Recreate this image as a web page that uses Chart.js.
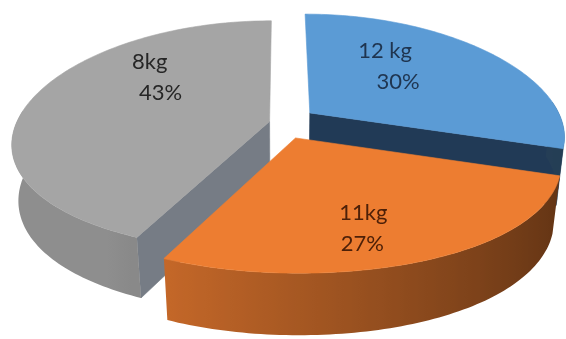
<!DOCTYPE html>
<html>
<head>
<meta charset="utf-8">
<script src="https://cdn.jsdelivr.net/npm/chart.js@4.4.0/dist/chart.umd.min.js"></script>
<style>
  html, body { margin: 0; padding: 0; background: #fff; }
  #wrap { width: 566px; height: 339px; }
</style>
</head>
<body>
<div id="wrap"><canvas id="pieChart" width="566" height="339"></canvas></div>
<script>
// weight written on each slice
const sliceLabels = ['12 kg', '11kg', '8kg'];
// share of each slice (%)
const sliceShares = [30, 27, 43];

function shade(hex, f) {
  const n = parseInt(hex.slice(1), 16);
  const r = Math.round(((n >> 16) & 255) * f);
  const g = Math.round(((n >> 8) & 255) * f);
  const b = Math.round((n & 255) * f);
  return `rgb(${Math.min(r, 255)},${Math.min(g, 255)},${Math.min(b, 255)})`;
}

// draws the pie as a tilted, exploded 3D disc using the arcs Chart.js laid out
const pie3d = {
  id: 'pie3d',
  beforeDatasetsDraw(chart, args, o) {
    const ctx = chart.ctx;
    const meta = chart.getDatasetMeta(0);
    const ds = chart.data.datasets[0];
    const phi = o.tilt * Math.PI / 180;
    const sn = Math.sin(phi), cs = Math.cos(phi);

    const first = meta.data[0];
    const R = first.outerRadius * o.stretch;
    const cx = first.x + o.shiftX;
    const cy = first.y + o.shiftY;

    // X right, Y up, Z towards the viewer -> canvas px
    const project = (X, Y, Z) => {
      const yc = Y * cs - Z * sn;
      const kx = R * o.distX / (o.distX - Y * sn - Z * cs);
      const ky = R * o.distY / (o.distY - Y * sn - Z * cs);
      return [cx + X * kx, cy - yc * ky];
    };
    const path = pts => {
      ctx.beginPath();
      pts.forEach((p, j) => j ? ctx.lineTo(p[0], p[1]) : ctx.moveTo(p[0], p[1]));
      ctx.closePath();
    };
    const poly = (pts, fill) => {
      path(pts);
      ctx.fillStyle = fill;
      ctx.fill();
      ctx.strokeStyle = fill;
      ctx.lineWidth = 0.6;
      ctx.stroke();
    };
    const rimShade = a => Math.max(0.3, Math.min(o.rimMax, 0.7 - 0.3 * Math.cos(a)));
    const h = -o.thickness;

    const slices = meta.data.map((arc, i) => {
      const mid = (arc.startAngle + arc.endAngle) / 2;
      const e = (arc.options.offset || 0) / arc.outerRadius;
      return { i, a0: arc.startAngle, a1: arc.endAngle, mid,
               ox: Math.cos(mid) * e, oz: Math.sin(mid) * e };
    }).sort((p, q) => p.oz - q.oz); // back slices first

    ctx.save();
    slices.forEach(sl => {
      const base = ds.backgroundColor[sl.i];
      const n = Math.max(8, Math.ceil((sl.a1 - sl.a0) / 0.02));
      const ang = [], top = [], bot = [];
      for (let j = 0; j <= n; j++) {
        const a = sl.a0 + (sl.a1 - sl.a0) * j / n;
        const X = sl.ox + Math.cos(a), Z = sl.oz + Math.sin(a);
        ang.push(a);
        top.push(project(X, 0, Z));
        bot.push(project(X, h, Z));
      }
      const apT = project(sl.ox, 0, sl.oz);
      const apB = project(sl.ox, h, sl.oz);

      // cut faces, only the ones turned to the front
      if (-Math.cos(sl.a0) > 0.01) poly([top[0], apT, apB, bot[0]], ds.cutColor[sl.i]);
      if (Math.cos(sl.a1) > 0.01) poly([apT, top[n], bot[n], apB], ds.cutColor[sl.i]);

      // outer rim (front part), one shape with a left-lit gradient
      const vis = [];
      for (let j = 0; j <= n; j++) if (Math.sin(ang[j]) > -0.12) vis.push(j);
      if (vis.length > 1) {
        const rim = vis.map(j => top[j]).concat(vis.slice().reverse().map(j => bot[j]));
        const xs = rim.map(p => p[0]);
        const x0 = Math.min(...xs), x1 = Math.max(...xs);
        const grad = ctx.createLinearGradient(x0, 0, x1, 0);
        vis.forEach(j => {
          const t = (top[j][0] - x0) / (x1 - x0 || 1);
          grad.addColorStop(Math.max(0, Math.min(1, t)), shade(base, rimShade(ang[j])));
        });
        path(rim);
        ctx.fillStyle = grad;
        ctx.fill();
      }

      poly([apT].concat(top), base);
    });

    // value labels on the top faces
    const total = ds.data.reduce((s, v) => s + v, 0);
    ctx.font = o.font;
    ctx.textAlign = 'center';
    ctx.textBaseline = 'middle';
    slices.forEach(sl => {
      const lay = o.labelLayout[sl.i];
      const p = project(sl.ox + Math.cos(sl.mid) * o.labelRadius, 0,
                        sl.oz + Math.sin(sl.mid) * o.labelRadius);
      const x = p[0] + lay[0], y = p[1] + lay[1];
      ctx.fillStyle = ds.labelColor[sl.i];
      ctx.fillText(chart.data.labels[sl.i], x - lay[2] / 2, y - o.lineGap / 2);
      ctx.fillText(Math.round(ds.data[sl.i] / total * 100) + '%', x + lay[2] / 2, y + o.lineGap / 2);
    });
    ctx.restore();
    return false;
  }
};

new Chart(document.getElementById('pieChart'), {
  type: 'pie',
  data: {
    labels: sliceLabels,
    datasets: [{
      data: sliceShares,
      backgroundColor: ['#5B9BD5', '#ED7D31', '#A5A5A5'],
      cutColor: ['#213A56', '#9A4F1C', '#767C85'],
      labelColor: ['#1F3550', '#4D2008', '#262626'],
      borderWidth: 0,
      offset: [23, 23, 7]
    }]
  },
  options: {
    responsive: false,
    animation: false,
    plugins: {
      legend: { display: false },
      tooltip: { enabled: false },
      pie3d: {
        tilt: 26.7,
        distX: 4.6,
        distY: 7,
        thickness: 0.25,
        stretch: 253 / 158,
        shiftX: -2.5,
        shiftY: -47,
        rimMax: 0.86,
        labelRadius: 0.5,
        lineGap: 31,
        font: '22px Lato',
        // [dx, dy, indent of the second line]
        labelLayout: [[-12, -15, 13], [9, 33, -1], [6, -32, 11]]
      }
    }
  },
  plugins: [pie3d]
});
</script>
</body>
</html>
